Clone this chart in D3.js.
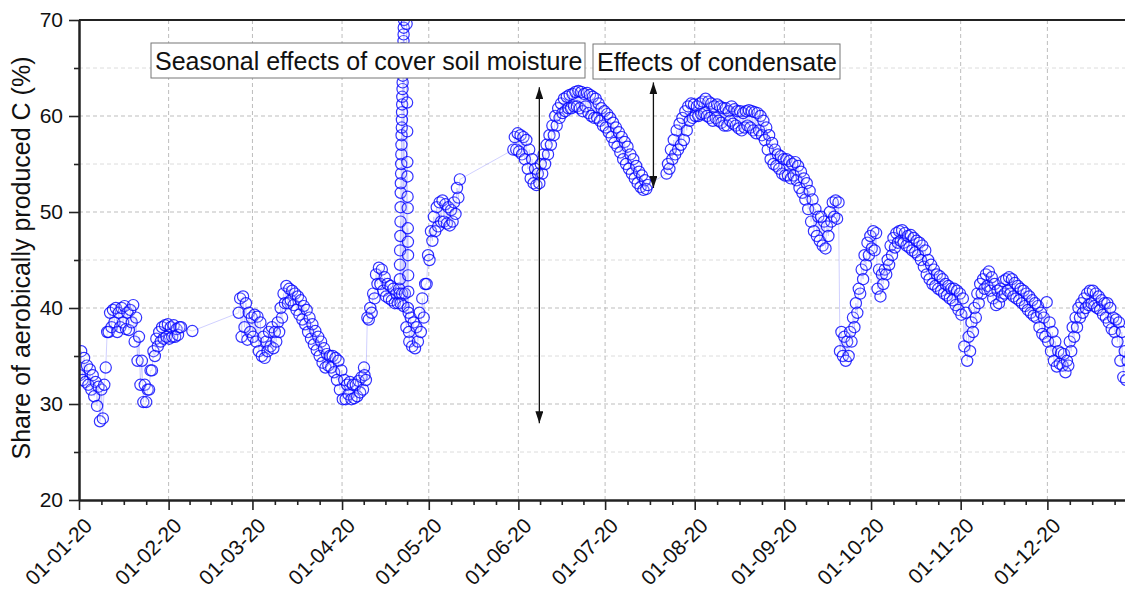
<!DOCTYPE html>
<html>
<head>
<meta charset="utf-8">
<script src="https://cdn.jsdelivr.net/npm/d3@7"></script>
<style>
  body { margin: 0; background: #fff; }
  svg { display: block; font-family: Arial, "Liberation Sans", sans-serif; }
</style>
</head>
<body>
<div id="graph"></div>
<script>
// first day of each continuous block of readings
var segStart = ["2020-01-01", "2020-02-25", "2020-05-30", "2020-07-22"];

// daily high / low share of aerobically produced C (%), one value per day from segStart
var dailyHigh = [
  [35.5, 34.8, 34.0, 33.6, 33.0, 32.3, 31.8, 31.5, 32.0, 37.5,
   39.5, 39.8, 40.0, 39.5, 40.0, 40.2, 39.5, 39.8, 40.3, 39.0,
   37.0, 34.5, 32.0, 31.5, 33.5, 35.5, 36.8, 37.5, 38.0, 38.2,
   38.3, 38.0, 38.2, 37.8, 38.0],
  [41.0, 41.2, 40.5, 39.5, 39.0, 39.3, 39.1, 38.5, 37.0, 36.5,
   37.5, 38.0, 37.5, 38.5, 40.0, 41.5, 42.3, 42.0, 41.8, 41.5,
   41.2, 40.8, 40.2, 39.8, 39.0, 38.3, 37.6, 37.0, 36.5, 35.8,
   35.2, 35.0, 35.0, 34.8, 34.5, 33.5, 32.5, 32.0, 32.3, 32.0,
   32.0, 32.4, 32.8, 33.0, 39.0, 40.0, 41.5, 43.5, 44.2, 44.0,
   43.2, 42.5, 42.3, 42.0, 41.5, 42.0, 41.5, 41.5, 40.0, 39.0,
   38.5, 38.0, 39.5, 41.0, 42.5, 45.5, 48.0, 49.5, 50.5, 51.0,
   51.2, 50.8, 50.5, 50.2, 51.0, 52.5, 53.4],
  [57.8, 58.2, 58.0, 57.8, 57.5, 56.5, 55.5, 54.5, 54.0, 55.0,
   56.0, 57.0, 58.0, 59.0, 60.0, 60.8, 61.3, 61.8, 62.0, 62.2,
   62.3, 62.5, 62.6, 62.5, 62.3, 62.4, 62.2, 62.0, 61.8, 61.3,
   60.8, 60.5, 60.2, 59.8, 59.3, 58.8, 58.3, 57.8, 57.3, 56.8,
   56.0, 55.5, 54.8, 54.2, 53.8, 53.3, 52.8],
  [55.0, 56.5, 57.5, 58.5, 59.2, 59.8, 60.5, 61.0, 61.3, 61.2,
   61.0, 61.3, 61.5, 61.8, 61.5, 61.3, 61.0, 61.2, 61.0, 60.8,
   60.8, 60.5, 61.0, 60.7, 60.5, 60.5, 60.3, 60.5, 60.6, 60.5,
   60.4, 60.3, 60.0, 59.5, 58.8, 58.0, 57.2, 56.5, 56.0, 55.8,
   55.5, 55.5, 55.3, 55.0, 55.2, 54.8, 54.2, 53.5, 53.0, 52.2,
   51.3, 50.3, 49.5, 49.5, 49.0, 48.5, 50.0, 51.0, 51.2, 51.0,
   37.5, 37.0, 36.5, 37.5, 39.0, 40.5, 42.0, 44.0, 45.5, 46.8,
   47.5, 48.0, 47.8, 44.0, 43.5, 44.0, 45.0, 46.5, 47.3, 47.8,
   48.0, 48.1, 47.8, 47.5, 47.6, 47.3, 47.0, 46.8, 46.5, 46.0,
   45.0, 44.5, 44.0, 43.5, 43.3, 43.0, 42.5, 42.3, 42.0, 42.0,
   41.8, 41.5, 41.0, 39.5, 37.0, 38.5, 40.0, 41.5, 42.5, 43.0,
   43.5, 43.8, 43.2, 42.5, 41.8, 42.0, 42.8, 43.0, 43.2, 43.0,
   42.6, 42.3, 42.0, 41.8, 41.5, 41.2, 40.8, 40.5, 40.2, 39.5,
   39.0, 40.6, 38.5, 37.5, 36.5, 35.5, 35.3, 35.2, 34.5, 36.5,
   38.0, 39.0, 40.0, 40.5, 41.0, 41.5, 41.8, 41.8, 41.5, 41.2,
   40.8, 40.5, 40.5, 40.0, 39.0, 38.8, 38.5, 37.5, 35.5, 34.5]
];
var dailyLow = [
  [33.0, 32.5, 32.3, 32.0, 31.5, 30.8, 29.8, 28.2, 28.5, 33.8,
   37.5, 38.0, 38.5, 37.5, 38.0, 38.5, 37.8, 37.7, 38.5, 36.5,
   34.5, 32.0, 30.2, 30.2, 31.5, 33.5, 35.0, 36.0, 36.5, 36.8,
   37.0, 36.8, 37.0, 37.0, 37.2],
  [39.5, 37.0, 38.0, 36.7, 37.5, 37.0, 36.5, 35.5, 35.0, 34.8,
   35.5, 36.0, 35.8, 36.5, 37.5, 39.0, 40.5, 40.5, 40.8, 40.3,
   39.8, 39.3, 38.8, 38.3, 37.5, 36.8, 36.2, 35.6, 35.0, 34.3,
   33.8, 34.0, 33.8, 33.3, 32.5, 31.5, 30.5, 30.5, 31.0, 30.5,
   30.6, 30.8, 31.2, 31.5, 32.5, 38.8, 39.5, 41.0, 42.5, 42.5,
   41.8, 41.2, 41.0, 40.8, 40.5, 40.5, 40.5, 40.2, 38.0, 36.5,
   36.0, 35.8, 36.5, 37.5, 39.0, 42.5, 45.0, 47.0, 48.0, 48.5,
   49.0, 49.0, 48.8, 48.6, 49.0, 49.8, 51.5],
  [56.5, 56.5, 56.3, 56.0, 55.5, 54.5, 53.5, 53.0, 52.8, 53.0,
   54.0, 55.0, 56.0, 57.0, 58.0, 59.0, 59.8, 60.3, 60.5, 60.8,
   60.8, 61.0, 61.0, 60.8, 60.5, 61.0, 60.3, 60.0, 59.8, 59.8,
   59.5, 59.0, 58.8, 58.3, 57.8, 57.2, 56.8, 56.2, 55.5, 55.0,
   54.5, 54.0, 53.5, 53.0, 52.6, 52.3, 52.4],
  [54.0, 54.5, 55.5, 56.0, 56.5, 57.0, 57.5, 58.5, 59.5, 59.8,
   60.0, 60.0, 60.2, 60.3, 60.0, 59.8, 59.5, 59.8, 59.5, 59.3,
   59.0, 59.0, 59.5, 59.2, 59.0, 58.7, 58.5, 58.8, 59.0, 58.8,
   58.5, 58.2, 58.5, 58.0, 57.5, 56.5, 55.5, 55.0, 54.8, 54.5,
   54.0, 53.8, 53.8, 53.5, 53.8, 53.3, 52.5, 52.0, 51.3, 50.3,
   49.0, 48.0, 47.5, 47.0, 46.5, 46.2, 47.5, 49.0, 49.5, 49.3,
   35.5, 35.0, 34.5, 35.0, 36.5, 38.0, 39.5, 41.5, 43.0, 44.5,
   45.5, 46.2, 46.0, 42.0, 41.2, 42.5, 43.5, 44.5, 45.5, 46.3,
   46.8, 47.0, 46.8, 46.5, 46.3, 46.0, 45.8, 45.5, 45.0, 44.3,
   43.5, 43.0, 42.5, 42.3, 42.0, 41.8, 41.5, 41.3, 41.0, 40.8,
   40.3, 39.8, 39.3, 36.0, 34.5, 35.5, 37.5, 39.0, 40.5, 41.5,
   42.0, 42.3, 41.8, 41.0, 40.3, 40.5, 41.2, 41.5, 41.8, 41.5,
   41.2, 41.0, 40.8, 40.5, 40.2, 39.8, 39.5, 39.2, 39.0, 38.0,
   37.3, 37.0, 36.5, 35.5, 34.5, 33.9, 34.2, 34.0, 33.3, 34.0,
   35.5, 37.0, 38.0, 39.0, 39.5, 40.0, 40.3, 40.5, 40.2, 40.0,
   39.8, 39.3, 39.0, 38.5, 37.8, 37.5, 36.5, 34.5, 32.8, 32.5]
];

// single readings outside the blocks
var extraTime = ["2020-02-05T07:00", "2020-02-09T05:00", "2020-04-08T14:00"];
var extraShare = [38.0, 37.6, 33.8];

// the April spike, hours after 2020-04-20 00:00
var spikeHour = [22, 24, 25, 26, 28, 29, 30, 31, 32, 34,
                 35, 36, 37, 38, 40, 41, 42, 43, 44, 46,
                 47, 48, 49, 50, 52, 53, 54, 55, 56, 58, 60,
                 80, 84, 85, 86, 87, 88, 89, 90, 91, 92, 93, 94, 97, 100];
var spikeShare = [41.5, 43.0, 44.5, 46.0, 47.5, 49.0, 50.5, 52.0, 53.0, 54.0,
                  55.0, 56.0, 57.0, 58.0, 58.8, 59.6, 60.4, 61.2, 62.0, 62.8,
                  63.5, 64.2, 65.0, 65.7, 66.4, 67.1, 67.8, 68.5, 69.2, 70.0, 71.0,
                  69.6, 61.4, 58.4, 55.2, 53.7, 51.6, 50.4, 48.3, 46.9, 45.5, 43.4, 41.7, 39.5, 37.5];

var yMajor = [20, 30, 40, 50, 60, 70];
var yMinor = [25, 35, 45, 55, 65];

var width = 1125, height = 589;
var mLeft = 79, mRight = 1137, mTop = 20, mBottom = 500;

var parseDay = d3.utcParse("%Y-%m-%d");
var parseTime = d3.utcParse("%Y-%m-%dT%H:%M");

// build the point list
var points = [];
segStart.forEach(function(s, k) {
  var t0 = parseDay(s);
  dailyLow[k].forEach(function(v, i) {
    points.push({ t: d3.utcHour.offset(t0, i * 24 + 6), v: v });
    points.push({ t: d3.utcHour.offset(t0, i * 24 + 18), v: dailyHigh[k][i] });
  });
});
extraTime.forEach(function(s, i) {
  points.push({ t: parseTime(s), v: extraShare[i] });
});
var spikeBase = parseDay("2020-04-20");
spikeHour.forEach(function(h, i) {
  points.push({ t: d3.utcHour.offset(spikeBase, h), v: spikeShare[i] });
});
points.sort(function(a, b) { return a.t - b.t; });

var x = d3.scaleUtc()
  .domain([parseDay("2020-01-01"), parseDay("2021-01-01")])
  .range([mLeft, mRight]);
var y = d3.scaleLinear().domain([20, 70]).range([mBottom, mTop]);

var months = d3.utcMonth.range(parseDay("2020-01-01"), parseDay("2021-01-01"));
var minorX = [];
months.forEach(function(m) {
  var next = d3.utcMonth.offset(m, 1);
  for (var k = 1; k < 4; k++) minorX.push(new Date(+m + (next - m) * k / 4));
});

var svg = d3.select("#graph")
  .append("svg")
    .attr("width", width)
    .attr("height", height);

var defs = svg.append("defs");
defs.append("clipPath")
    .attr("id", "plot")
  .append("rect")
    .attr("x", mLeft).attr("y", mTop)
    .attr("width", mRight - mLeft).attr("height", mBottom - mTop);

// grid
svg.append("g")
  .selectAll("line")
  .data(yMinor)
  .enter().append("line")
    .attr("x1", mLeft).attr("x2", mRight)
    .attr("y1", function(d) { return y(d); })
    .attr("y2", function(d) { return y(d); })
    .style("stroke", "#dcdcdc")
    .style("stroke-dasharray", "4,3");
svg.append("g")
  .selectAll("line")
  .data(yMajor.slice(1, -1))
  .enter().append("line")
    .attr("x1", mLeft).attr("x2", mRight)
    .attr("y1", function(d) { return y(d); })
    .attr("y2", function(d) { return y(d); })
    .style("stroke", "#bdbdbd")
    .style("stroke-dasharray", "4,3");
svg.append("g")
  .selectAll("line")
  .data(months.slice(1))
  .enter().append("line")
    .attr("x1", function(d) { return x(d); })
    .attr("x2", function(d) { return x(d); })
    .attr("y1", mTop).attr("y2", mBottom)
    .style("stroke", "#bdbdbd")
    .style("stroke-dasharray", "4,3");

// data
var plot = svg.append("g").attr("clip-path", "url(#plot)");

plot.append("path")
  .datum(points)
  .attr("d", d3.line()
    .x(function(d) { return x(d.t); })
    .y(function(d) { return y(d.v); }))
  .style("fill", "none")
  .style("stroke", "#9d9dff")
  .style("stroke-opacity", 0.6)
  .style("stroke-width", 0.8);

plot.append("g")
  .selectAll("circle")
  .data(points)
  .enter().append("circle")
    .attr("cx", function(d) { return x(d.t); })
    .attr("cy", function(d) { return y(d.v); })
    .attr("r", 5.6)
    .style("fill", "#fff")
    .style("fill-opacity", 0.15)
    .style("stroke", "#0000ff")
    .style("stroke-opacity", 0.8)
    .style("stroke-width", 1.2);

// axes
var xAxis = svg.append("g")
  .attr("transform", "translate(0," + mBottom + ")")
  .call(d3.axisBottom(x).tickValues(months).tickSize(10).tickSizeOuter(0)
    .tickFormat(d3.utcFormat("%d-%m-%y")));
xAxis.selectAll("text")
  .attr("x", 0).attr("y", 0).attr("dy", null)
  .attr("transform", "translate(14,27) rotate(-45)")
  .style("text-anchor", "end");

svg.append("g")
  .attr("transform", "translate(0," + mBottom + ")")
  .call(d3.axisBottom(x).tickValues(minorX).tickSize(5).tickSizeOuter(0).tickFormat(""));

svg.append("g")
  .attr("transform", "translate(" + mLeft + ",0)")
  .call(d3.axisLeft(y).tickValues(yMajor).tickSize(10).tickSizeOuter(0).tickPadding(6));
svg.append("g")
  .attr("transform", "translate(" + mLeft + ",0)")
  .call(d3.axisLeft(y).tickValues(yMinor).tickSize(5).tickSizeOuter(0).tickFormat(""));

svg.selectAll(".domain, .tick line")
  .style("stroke", "#222")
  .style("stroke-width", 1.6);
svg.selectAll(".domain").style("stroke-width", 2);
svg.selectAll(".tick text")
  .style("font-family", "Arial, 'Liberation Sans', sans-serif")
  .style("font-size", "21px")
  .style("fill", "#111");

svg.append("line")
  .attr("x1", mLeft).attr("x2", mRight)
  .attr("y1", mTop).attr("y2", mTop)
  .style("stroke", "#222")
  .style("stroke-width", 2);

svg.append("text")
  .attr("transform", "translate(30,258) rotate(-90)")
  .style("text-anchor", "middle")
  .style("font-size", "25px")
  .style("fill", "#111")
  .text("Share of aerobically produced C (%)");

// annotation boxes
var notes = [
  { x: 151, y: 43, w: 434, h: 35, label: "Seasonal effects of cover soil moisture" },
  { x: 593, y: 44, w: 247, h: 35, label: "Effects of condensate" }
];
var note = svg.append("g").selectAll("g").data(notes).enter().append("g");
note.append("rect")
  .attr("x", function(d) { return d.x; })
  .attr("y", function(d) { return d.y; })
  .attr("width", function(d) { return d.w; })
  .attr("height", function(d) { return d.h; })
  .style("fill", "#fff")
  .style("stroke", "#777")
  .style("stroke-width", 1);
note.append("text")
  .attr("x", function(d) { return d.x + 4; })
  .attr("y", function(d) { return d.y + 27; })
  .style("font-size", "25px")
  .style("fill", "#111")
  .text(function(d) { return d.label; });

// double headed arrows
defs.append("marker")
    .attr("id", "head")
    .attr("viewBox", "0 0 12 8")
    .attr("refX", 12).attr("refY", 4)
    .attr("markerWidth", 12).attr("markerHeight", 8)
    .attr("markerUnits", "userSpaceOnUse")
    .attr("orient", "auto-start-reverse")
  .append("path")
    .attr("d", "M0,0L12,4L0,8Z")
    .style("fill", "#111");

var arrows = [
  { t: "2020-06-08T06:00", from: 63.0, to: 28.0 },
  { t: "2020-07-17T17:00", from: 63.5, to: 52.5 }
];
svg.append("g").selectAll("line")
  .data(arrows)
  .enter().append("line")
    .attr("x1", function(d) { return x(parseTime(d.t)); })
    .attr("x2", function(d) { return x(parseTime(d.t)); })
    .attr("y1", function(d) { return y(d.from); })
    .attr("y2", function(d) { return y(d.to); })
    .attr("marker-start", "url(#head)")
    .attr("marker-end", "url(#head)")
    .style("stroke", "#111")
    .style("stroke-width", 1.3);
</script>
</body>
</html>
